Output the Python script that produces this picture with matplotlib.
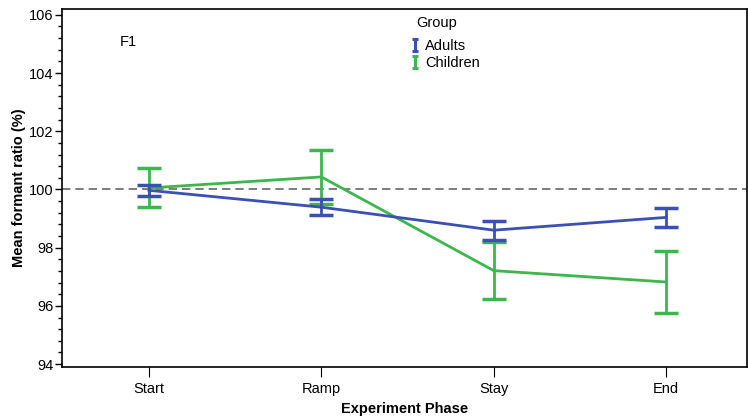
import matplotlib
matplotlib.use("Agg")
import matplotlib.pyplot as plt
from matplotlib.path import Path
from matplotlib.lines import Line2D
from matplotlib.ticker import MultipleLocator

plt.rcParams['font.family'] = ['Liberation Sans', 'DejaVu Sans']

phases = ["Start", "Ramp", "Stay", "End"]
adults_mean = [99.97, 99.39, 98.60, 99.04]
adults_err = [0.19, 0.27, 0.33, 0.33]
children_mean = [100.05, 100.43, 97.21, 96.82]
children_err = [0.67, 0.93, 0.99, 1.05]

blue = "#3a50b2"
green = "#3db64c"

fig = plt.figure(figsize=(7.48, 4.16), dpi=100)
ax = fig.add_axes([0.0829, 0.1178, 0.9155, 0.8606])

x = list(range(len(phases)))
ax.axhline(100, color="#666666", lw=1.2, ls=(0, (5, 3)), zorder=1)
ax.errorbar(x, adults_mean, yerr=adults_err, color=blue, lw=2, capsize=8.5,
            capthick=2.5, zorder=3)
ax.errorbar(x, children_mean, yerr=children_err, color=green, lw=2, capsize=8.5,
            capthick=2.5, zorder=2)

ax.set_xlim(-0.504, 3.467)
ax.set_ylim(93.9, 106.2)
ax.set_xticks(x)
ax.set_xticklabels(phases, fontsize=10.5)
ax.set_yticks([94, 96, 98, 100, 102, 104, 106])
ax.yaxis.set_minor_locator(MultipleLocator(0.4))
ax.tick_params(axis='y', which='major', length=5, width=1, labelsize=10.5, pad=1)
ax.tick_params(axis='y', which='minor', length=3, width=1)
ax.tick_params(axis='x', which='major', length=7, width=0.8, labelsize=10.5, pad=4)
for s in ax.spines.values():
    s.set_linewidth(1.2)

ax.set_xlabel("Experiment Phase", fontsize=10.5, fontweight='bold', labelpad=4)
ax.set_ylabel("Mean formant ratio (%)", fontsize=10.5, fontweight='bold', labelpad=2)

ax.text(-0.117, 105.07, "F1", fontsize=10.5, ha='center', va='center')

ax.text(0.518, 0.962, "Group", transform=ax.transAxes, fontsize=10.5,
        ha='left', va='center')

verts = [(-0.5, -1), (0.5, -1), (0, -1), (0, 1), (-0.5, 1), (0.5, 1)]
codes = [Path.MOVETO, Path.LINETO, Path.MOVETO, Path.LINETO, Path.MOVETO, Path.LINETO]
ibar = Path(verts, codes)
handles = [Line2D([], [], ls='none', marker=ibar, markersize=9, markeredgewidth=2.2,
                  color=blue, markerfacecolor='none', markeredgecolor=blue),
           Line2D([], [], ls='none', marker=ibar, markersize=9, markeredgewidth=2.2,
                  color=green, markerfacecolor='none', markeredgecolor=green)]
leg = ax.legend(handles, ["Adults", "Children"], loc='upper left',
                bbox_to_anchor=(0.509, 0.917), frameon=False, fontsize=10.5,
                handlelength=0.6, handletextpad=0.4, borderpad=0,
                labelspacing=0.25, borderaxespad=0)

fig.savefig("out.png", dpi=100)
